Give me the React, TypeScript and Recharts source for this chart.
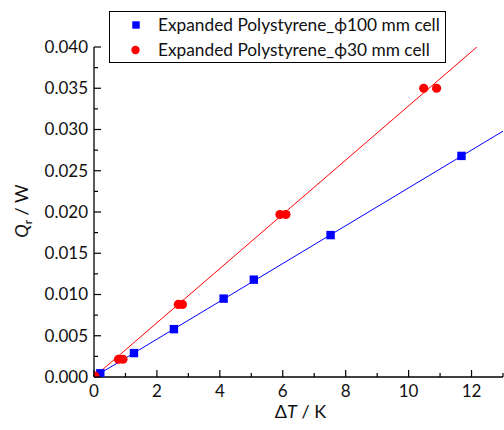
import React from 'react';
import { ScatterChart, Scatter, XAxis, YAxis, Label } from 'recharts';

// Measured heat flow vs temperature difference, two cell sizes
const cell100X = [0.2, 1.27, 2.54, 4.12, 5.08, 7.52, 11.68];
const cell100Y = [0.00045, 0.0029, 0.0058, 0.0095, 0.0118, 0.0172, 0.0268];
const cell30X = [0.03, 0.78, 0.92, 2.68, 2.81, 5.91, 6.1, 10.48, 10.89];
const cell30Y = [0.0001, 0.00215, 0.00215, 0.0088, 0.0088, 0.0197, 0.0197, 0.035, 0.035];

// Linear fit lines (end points)
const fit100X = [0, 13];
const fit100Y = [0, 0.0298];
const fit30X = [0, 12.17];
const fit30Y = [0, 0.04];

const xTicks = [0, 1, 2, 3, 4, 5, 6, 7, 8, 9, 10, 11, 12, 13];
const yTicks = [0, 0.0025, 0.005, 0.0075, 0.01, 0.0125, 0.015, 0.0175, 0.02, 0.0225, 0.025, 0.0275, 0.03, 0.0325, 0.035, 0.0375, 0.04];

const legendNames = ['Expanded Polystyrene_\u03D5100 mm cell', 'Expanded Polystyrene_\u03D530 mm cell'];

const BLUE = '#0000ff';
const RED = '#ff0000';
const FONT = 'Lato, "Open Sans", sans-serif';

const zip = (xs: number[], ys: number[]) => xs.map((x, i) => ({ x, y: ys[i] }));

const cell100 = zip(cell100X, cell100Y);
const cell30 = zip(cell30X, cell30Y);
const fit100 = zip(fit100X, fit100Y);
const fit30 = zip(fit30X, fit30Y);

const isMajorX = (v: number) => v % 2 === 0 && v <= 12;
const isMajorY = (i: number) => i % 2 === 0;

const BottomTick = (p: any) => {
  const { x, y, payload } = p;
  const major = isMajorX(payload.value);
  return (
    <g>
      <line x1={x} y1={y} x2={x} y2={y - (major ? 7 : 4)} stroke="#000" strokeWidth={1.2} />
      {major && (
        <text x={x} y={y + 14} dy="0.35em" textAnchor="middle" fontSize={17} fontFamily={FONT} fill="#111">
          {payload.value}
        </text>
      )}
    </g>
  );
};

const TopTick = (p: any) => {
  const { x, y, payload } = p;
  const major = isMajorX(payload.value);
  return <line x1={x} y1={y} x2={x} y2={y + (major ? 7 : 4)} stroke="#000" strokeWidth={1.2} />;
};

const LeftTick = (p: any) => {
  const { x, y, payload, index } = p;
  const major = isMajorY(index);
  return (
    <g>
      <line x1={x} y1={y} x2={x + (major ? 7 : 4)} y2={y} stroke="#000" strokeWidth={1.2} />
      {major && (
        <text x={x - 6} y={y} dy="0.35em" textAnchor="end" fontSize={17} fontFamily={FONT} fill="#111">
          {payload.value.toFixed(3)}
        </text>
      )}
    </g>
  );
};

const RightTick = (p: any) => {
  const { x, y, index } = p;
  const major = isMajorY(index);
  return <line x1={x} y1={y} x2={x - (major ? 7 : 4)} y2={y} stroke="#000" strokeWidth={1.2} />;
};

const Square = (p: any) => <rect x={p.cx - 4.2} y={p.cy - 4.2} width={8.4} height={8.4} fill={BLUE} />;
const Dot = (p: any) => <circle cx={p.cx} cy={p.cy} r={4.6} fill={RED} />;
const NoShape = () => null;

export default function App() {
  return (
    <div style={{ position: 'absolute', left: 0, top: 0, width: 504, height: 430, background: '#fff' }}>
      <ScatterChart width={504} height={430} margin={{ top: 47, right: 1, bottom: 0, left: 0 }}>
        <XAxis
          xAxisId="b"
          type="number"
          dataKey="x"
          domain={[0, 13]}
          ticks={xTicks}
          interval={0}
          tickSize={0}
          tickMargin={0}
          tickLine={false}
          height={53}
          stroke="#000"
          strokeWidth={1.3}
          tick={BottomTick}
          allowDataOverflow
        >
          <Label
            content={(props: any) => {
              const vb = props.viewBox;
              return (
                <text x={vb.x + vb.width / 2 + 2} y={412} dy="0.35em" textAnchor="middle" fontSize={18} fontFamily={FONT} fill="#111">
                  {'\u0394'}
                  <tspan fontStyle="italic">T</tspan>
                  {' / K'}
                </text>
              );
            }}
          />
        </XAxis>
        <XAxis
          xAxisId="t"
          orientation="top"
          type="number"
          dataKey="x"
          domain={[0, 13]}
          ticks={xTicks}
          interval={0}
          tickSize={0}
          tickMargin={0}
          tickLine={false}
          height={0}
          stroke="#000"
          strokeWidth={1.3}
          tick={TopTick}
          allowDataOverflow
        />
        <YAxis
          yAxisId="l"
          type="number"
          dataKey="y"
          domain={[0, 0.04]}
          ticks={yTicks}
          interval={0}
          tickSize={0}
          tickMargin={0}
          tickLine={false}
          width={94}
          stroke="#000"
          strokeWidth={1.3}
          tick={LeftTick}
          allowDataOverflow
        >
          <Label
            content={() => (
              <text
                x={22}
                y={211}
                dy="0.35em"
                textAnchor="middle"
                transform="rotate(-90 22 211)"
                fontSize={18}
                fontFamily={FONT}
                fill="#111"
              >
                <tspan fontStyle="italic">Q</tspan>
                <tspan fontSize={12} dy={4}>r</tspan>
                <tspan dy={-4}>{' / W'}</tspan>
              </text>
            )}
          />
        </YAxis>
        <YAxis
          yAxisId="r"
          orientation="right"
          type="number"
          dataKey="y"
          domain={[0, 0.04]}
          ticks={yTicks}
          interval={0}
          tickSize={0}
          tickMargin={0}
          tickLine={false}
          width={0}
          stroke="#000"
          strokeWidth={1.3}
          tick={RightTick}
          allowDataOverflow
        />
        <Scatter
          xAxisId="b"
          yAxisId="l"
          data={fit100}
          line={{ stroke: BLUE, strokeWidth: 1 }}
          shape={NoShape}
          isAnimationActive={false}
        />
        <Scatter
          xAxisId="b"
          yAxisId="l"
          data={fit30}
          line={{ stroke: RED, strokeWidth: 1 }}
          shape={NoShape}
          isAnimationActive={false}
        />
        <Scatter xAxisId="b" yAxisId="l" data={cell100} shape={Square} isAnimationActive={false} />
        <Scatter xAxisId="b" yAxisId="l" data={cell30} shape={Dot} isAnimationActive={false} />
      </ScatterChart>
      <div
        style={{
          position: 'absolute',
          left: 109,
          top: 11,
          width: 337,
          height: 52,
          boxSizing: 'border-box',
          border: '1px solid #000',
          background: '#fff',
          fontFamily: FONT,
          fontSize: 17.3,
          color: '#111',
        }}
      >
        {legendNames.map((name, i) => (
          <div key={name} style={{ position: 'absolute', left: 0, top: i === 0 ? 1 : 26, height: 24, width: '100%' }}>
            <svg width={20} height={20} style={{ position: 'absolute', left: 16, top: 2 }}>
              {i === 0 ? (
                <rect x={6.3} y={6.3} width={7.4} height={7.4} fill={BLUE} />
              ) : (
                <circle cx={9.5} cy={10} r={4.2} fill={RED} />
              )}
            </svg>
            <span style={{ position: 'absolute', left: 48, top: 1, lineHeight: '22px', whiteSpace: 'nowrap' }}>{name}</span>
          </div>
        ))}
      </div>
    </div>
  );
}
